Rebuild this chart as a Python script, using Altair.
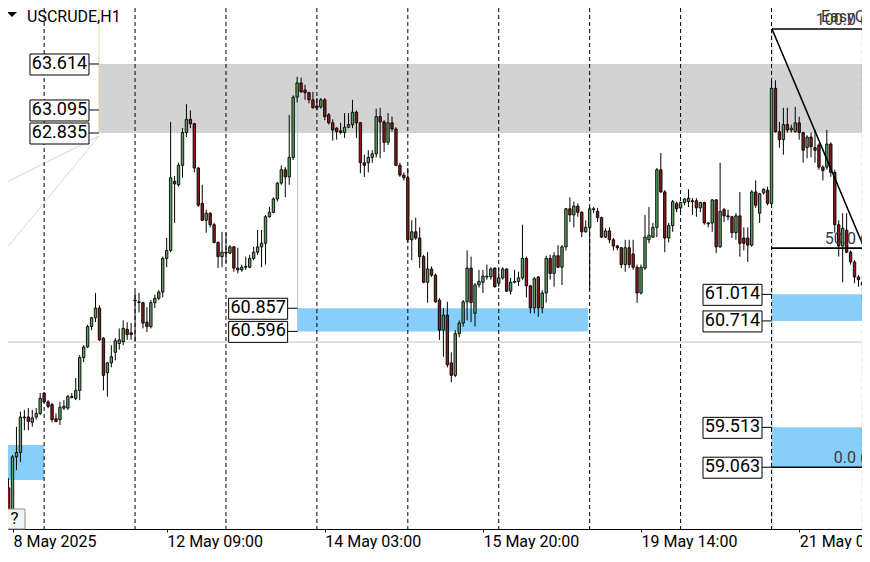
import altair as alt
import pandas as pd

# USCRUDE H1 bars, bar 0 = 8 May 2025 15:00 (one bar every hour)
opens = [58.83, 58.56, 59.18, 59.23, 59.62, 59.63, 59.57, 59.63, 59.67, 59.90,
         59.80, 59.77, 59.61, 59.60, 59.73, 59.73, 59.86, 59.84, 59.93, 60.30,
         60.42, 60.65, 60.75, 60.86, 60.52, 60.13, 60.24, 60.36, 60.46, 60.48,
         60.62, 60.58, 60.94, 60.93, 60.92, 60.70, 60.65, 60.92, 60.97, 61.04,
         61.42, 61.51, 62.29, 62.25, 62.47, 62.84, 62.99, 62.94, 62.44, 62.04,
         61.85, 61.93, 61.80, 61.60, 61.44, 61.49, 61.48, 61.55, 61.31, 61.29,
         61.32, 61.32, 61.42, 61.49, 61.55, 61.59, 61.89, 61.94, 62.09, 62.27,
         62.42, 62.34, 62.56, 63.24, 63.40, 63.32, 63.29, 63.21, 63.14, 63.13,
         63.21, 63.04, 62.95, 62.89, 62.86, 62.84, 62.90, 62.93, 63.07, 62.95,
         62.50, 62.50, 62.56, 62.60, 63.02, 62.96, 62.73, 62.95, 62.88, 62.47,
         62.36, 62.33, 61.63, 61.72, 61.65, 61.44, 61.15, 61.30, 61.23, 60.95,
         60.61, 60.78, 60.24, 60.10, 60.57, 60.69, 60.93, 61.31, 60.80, 61.12,
         61.15, 61.21, 61.21, 61.31, 61.14, 61.20, 61.30, 61.05, 61.15, 61.16,
         61.20, 61.42, 61.11, 60.86, 61.21, 60.86, 61.03, 61.42, 61.25, 61.45,
         61.32, 61.55, 61.98, 61.91, 62.01, 61.94, 61.72, 61.77, 61.98, 61.95,
         61.88, 61.66, 61.73, 61.63, 61.56, 61.54, 61.35, 61.54, 61.47, 61.32,
         61.03, 61.31, 61.63, 61.66, 61.77, 62.42, 62.17, 61.65, 61.79, 62.04,
         61.99, 62.05, 62.06, 62.07, 62.07, 61.99, 62.05, 61.82, 61.82, 62.08,
         61.55, 61.97, 61.90, 61.89, 61.71, 61.90, 61.65, 61.65, 61.57, 62.17,
         61.93, 62.16, 62.19, 62.04, 63.34, 62.85, 62.76, 62.93, 62.87, 62.85,
         62.95, 62.84, 62.67, 62.79, 62.67, 62.70, 62.45, 62.45, 62.71, 62.39,
         61.80, 61.56, 61.74, 61.49, 61.38, 61.21, 61.15]
highs = [58.94, 59.20, 59.52, 59.69, 59.71, 59.73, 59.71, 59.73, 59.90, 59.91,
         59.82, 59.79, 59.67, 59.80, 59.82, 59.88, 59.90, 60.07, 60.33, 60.44,
         60.67, 60.76, 61.03, 60.89, 60.53, 60.25, 60.44, 60.52, 60.63, 60.72,
         60.70, 60.69, 61.04, 61.03, 60.93, 60.87, 60.95, 61.01, 61.06, 61.44,
         61.65, 62.96, 62.35, 62.50, 62.89, 63.16, 63.09, 62.95, 62.45, 62.25,
         61.97, 61.94, 61.82, 61.61, 61.72, 61.71, 61.57, 61.56, 61.54, 61.35,
         61.44, 61.46, 61.55, 61.74, 61.74, 61.91, 62.00, 62.11, 62.28, 62.47,
         62.45, 63.04, 63.26, 63.47, 63.46, 63.38, 63.30, 63.30, 63.23, 63.23,
         63.23, 63.06, 62.99, 62.90, 62.95, 63.06, 63.06, 63.21, 63.09, 62.96,
         62.59, 62.64, 62.64, 63.11, 63.12, 62.98, 63.06, 63.02, 62.90, 62.50,
         62.39, 62.44, 61.85, 61.88, 61.77, 61.46, 61.49, 61.33, 61.25, 60.97,
         60.86, 60.93, 60.36, 60.61, 60.72, 60.95, 61.51, 61.44, 61.14, 61.29,
         61.29, 61.35, 61.32, 61.32, 61.31, 61.32, 61.31, 61.20, 61.29, 61.27,
         61.80, 61.44, 61.12, 61.21, 61.22, 61.06, 61.45, 61.46, 61.49, 61.57,
         61.57, 61.99, 62.11, 62.06, 62.04, 61.95, 61.85, 62.00, 62.00, 61.99,
         61.89, 61.76, 61.77, 61.65, 61.57, 61.55, 61.63, 61.63, 61.63, 61.35,
         61.35, 61.91, 62.00, 61.82, 62.44, 62.61, 62.19, 61.82, 62.08, 62.06,
         62.06, 62.10, 62.20, 62.10, 62.10, 62.06, 62.06, 61.83, 62.09, 62.09,
         62.50, 61.99, 61.97, 61.90, 61.93, 62.17, 61.77, 61.77, 62.19, 62.30,
         62.16, 62.21, 62.23, 63.43, 63.43, 62.96, 63.12, 63.12, 62.93, 63.13,
         63.02, 62.85, 62.81, 62.84, 62.87, 62.72, 62.47, 62.87, 62.73, 62.42,
         61.85, 61.93, 61.93, 61.51, 61.40, 61.23, 61.21]
lows = [58.47, 58.55, 59.03, 59.12, 59.48, 59.48, 59.52, 59.60, 59.65, 59.79,
        59.73, 59.57, 59.57, 59.54, 59.71, 59.71, 59.84, 59.82, 59.82, 60.25,
        60.41, 60.61, 60.70, 60.49, 59.93, 59.86, 60.19, 60.27, 60.39, 60.44,
        60.50, 60.50, 60.48, 60.81, 60.63, 60.59, 60.63, 60.86, 60.95, 60.98,
        61.32, 61.49, 61.82, 62.23, 62.33, 62.79, 62.89, 62.39, 62.00, 61.84,
        61.71, 61.77, 61.59, 61.31, 61.32, 61.37, 61.47, 61.27, 61.25, 61.27,
        61.29, 61.31, 61.40, 61.46, 61.32, 61.35, 61.88, 61.93, 62.06, 62.25,
        62.11, 62.25, 62.53, 63.18, 63.29, 63.21, 63.17, 63.11, 63.09, 63.11,
        62.98, 62.93, 62.75, 62.76, 62.82, 62.78, 62.89, 62.89, 62.78, 62.38,
        62.34, 62.39, 62.50, 62.56, 62.55, 62.62, 62.70, 62.85, 62.46, 62.34,
        62.30, 61.60, 61.40, 61.63, 61.31, 61.14, 60.92, 61.21, 60.92, 60.50,
        60.31, 60.19, 60.02, 60.08, 60.53, 60.65, 60.72, 60.70, 60.65, 61.09,
        61.03, 61.18, 61.18, 61.09, 61.10, 61.18, 61.04, 61.01, 61.14, 61.11,
        61.18, 60.98, 60.80, 60.80, 60.76, 60.80, 60.92, 61.18, 61.10, 61.31,
        61.12, 61.51, 61.83, 61.77, 61.89, 61.66, 61.71, 61.06, 61.93, 61.83,
        61.65, 61.65, 61.59, 61.51, 61.51, 61.31, 61.27, 61.31, 61.29, 60.92,
        61.01, 61.29, 61.59, 61.65, 61.66, 62.16, 61.49, 61.60, 61.72, 61.94,
        61.94, 62.02, 62.00, 61.91, 61.89, 61.94, 61.80, 61.77, 61.72, 61.48,
        61.54, 61.83, 61.85, 61.65, 61.63, 61.44, 61.51, 61.38, 61.55, 61.99,
        61.82, 62.14, 62.02, 62.02, 62.84, 62.67, 62.59, 62.84, 62.84, 62.84,
        62.76, 62.50, 62.55, 62.56, 62.50, 62.42, 62.30, 62.42, 62.34, 61.71,
        61.44, 61.15, 61.48, 61.35, 61.14, 61.10, 60.95]
closes = [58.55, 59.18, 59.23, 59.63, 59.63, 59.58, 59.62, 59.67, 59.84, 59.80,
          59.75, 59.60, 59.58, 59.74, 59.75, 59.86, 59.85, 59.93, 60.30, 60.42,
          60.65, 60.75, 60.86, 60.50, 60.10, 60.24, 60.31, 60.49, 60.50, 60.63,
          60.56, 60.56, 60.95, 60.92, 60.69, 60.65, 60.92, 60.97, 61.04, 61.42,
          61.51, 62.33, 62.26, 62.47, 62.84, 62.99, 62.94, 62.44, 62.02, 61.85,
          61.93, 61.80, 61.60, 61.44, 61.49, 61.48, 61.55, 61.31, 61.29, 61.32,
          61.33, 61.42, 61.49, 61.55, 61.59, 61.89, 61.94, 62.09, 62.27, 62.42,
          62.34, 62.56, 63.24, 63.40, 63.30, 63.29, 63.21, 63.12, 63.12, 63.21,
          63.02, 62.95, 62.87, 62.85, 62.84, 62.90, 62.93, 63.07, 62.95, 62.50,
          62.47, 62.56, 62.60, 63.02, 62.96, 62.73, 62.95, 62.88, 62.47, 62.36,
          62.33, 61.63, 61.72, 61.65, 61.44, 61.15, 61.30, 61.23, 60.93, 60.61,
          60.78, 60.22, 60.10, 60.57, 60.69, 60.93, 61.31, 60.92, 61.12, 61.16,
          61.22, 61.22, 61.30, 61.10, 61.20, 61.30, 61.05, 61.15, 61.16, 61.20,
          61.42, 61.11, 60.86, 61.19, 60.86, 61.03, 61.42, 61.25, 61.45, 61.32,
          61.55, 61.98, 61.91, 62.01, 61.94, 61.72, 61.77, 61.98, 61.97, 61.88,
          61.66, 61.73, 61.63, 61.56, 61.54, 61.35, 61.54, 61.35, 61.32, 61.03,
          61.32, 61.66, 61.68, 61.77, 62.42, 62.17, 61.65, 61.79, 62.06, 61.98,
          62.05, 62.09, 62.10, 62.06, 61.99, 62.05, 61.82, 61.81, 62.08, 61.55,
          61.95, 61.90, 61.89, 61.71, 61.90, 61.59, 61.59, 61.57, 62.17, 62.02,
          62.15, 62.20, 62.04, 63.34, 62.85, 62.76, 62.93, 62.87, 62.89, 62.95,
          62.84, 62.64, 62.79, 62.68, 62.64, 62.45, 62.41, 62.71, 62.39, 61.80,
          61.56, 61.76, 61.49, 61.38, 61.21, 61.18, 61.12]

# time axis labels (bar index -> text)
tick_bars = [0, 40, 80, 120, 160, 200]
tick_texts = ["8 May 2025", "12 May 09:00", "14 May 03:00", "15 May 20:00",
              "19 May 14:00", "21 May 08:00"]

# first bar of each trading day (period separators)
day_starts = [9, 32, 55, 78, 101, 124, 147, 170, 193, 216]

# supply zone (grey) and demand zones (blue): start bar, end bar, upper, lower price
supply_start, supply_end, supply_top, supply_bottom = [22.875], [230], [63.614], [62.835]
demand_start = [-0.4, 73.125, 193.125, 193.125]
demand_end = [9, 146.625, 230, 230]
demand_top = [59.314, 60.857, 61.014, 59.513]
demand_bottom = [58.919, 60.596, 60.714, 59.063]

# price tags attached to the zones
tag_bar = [22.875, 22.875, 22.875, 73.125, 73.125, 193.125, 193.125, 193.125, 193.125]
tag_price = [63.614, 63.095, 62.835, 60.857, 60.596, 61.014, 60.714, 59.513, 59.063]

# fibonacci retracement (anchor bars and prices)
fib_bars = [193.125, 239.8]
fib_prices = [64.009, 59.063]
fib_levels = [100.0, 50.0, 0.0]

hline_price = 60.476

UP, DOWN = "#5f9f5f", "#8c1a1a"
FONT = "Roboto"

# plot area: 854 x 521 px, 4 px per bar, 88.6 px per dollar
x_lo = 1.125
x_hi = x_lo + 854 / 4
y_hi = 64.246
y_lo = y_hi - 521 / 88.6
xs = alt.Scale(domain=[x_lo, x_hi], nice=False, zero=False)
ys = alt.Scale(domain=[y_lo, y_hi], nice=False, zero=False)

label_expr = "".join(f"datum.value < {b + 20} ? '{t}' : " for b, t in zip(tick_bars, tick_texts)) + "''"
x_axis = alt.Axis(values=[max(b, x_lo) for b in tick_bars], labelExpr=label_expr, title=None,
                  grid=False, labelAlign="left", labelBaseline="top", labelFlush=False,
                  labelOverlap=False, labelFont=FONT, labelFontSize=16, labelColor="black",
                  labelPadding=1, tickSize=3, tickColor="black", domainColor="black")


def X(f):
    return alt.X(f"{f}:Q", scale=xs, axis=x_axis)


def Y(f):
    return alt.Y(f"{f}:Q", scale=ys, axis=None)


bars = pd.DataFrame({"bar": list(range(len(opens))), "open": opens, "high": highs,
                     "low": lows, "close": closes})
bars["dir"] = ["up" if c >= o else "down" for o, c in zip(opens, closes)]

supply = pd.DataFrame({"start": supply_start, "end": supply_end,
                       "top": supply_top, "bottom": supply_bottom})
demand = pd.DataFrame({"start": demand_start, "end": demand_end,
                       "top": demand_top, "bottom": demand_bottom})
tags = pd.DataFrame({"bar": tag_bar, "price": tag_price,
                     "label": [f"{p:.3f}" for p in tag_price]})
seps = pd.DataFrame({"bar": day_starts})

fib_hi, fib_lo = fib_prices[0], fib_prices[1]
fib = pd.DataFrame({"level": fib_levels,
                    "price": [fib_lo + lv / 100 * (fib_hi - fib_lo) for lv in fib_levels]})
fib["start"] = fib_bars[0]
fib["end"] = 230
fib["text_bar"] = 230.6
fib["label"] = [f"{lv:.1f} ({p:.3f})" for lv, p in zip(fib["level"], fib["price"])]
fib_diag = pd.DataFrame({"b1": [fib_bars[0]], "b2": [fib_bars[1]],
                         "p1": [fib_hi], "p2": [fib_lo]})

supply_layer = alt.Chart(supply).mark_rect(clip=True, color="#d3d3d3").encode(
    x=X("start"), x2=alt.X2("end"), y=Y("top"), y2=alt.Y2("bottom"))
demand_layer = alt.Chart(demand).mark_rect(clip=True, color="#87cefa").encode(
    x=X("start"), x2=alt.X2("end"), y=Y("top"), y2=alt.Y2("bottom"))

hline = alt.Chart(pd.DataFrame({"price": [hline_price]})).mark_rule(
    color="#c4c4c4", strokeWidth=1).encode(y=Y("price"))

edges = pd.DataFrame({"bar": [73.125, 193.125], "top": [63.377, 64.009], "bottom": [60.596, y_lo]})
edge_layer = alt.Chart(edges).mark_rule(color="#a3c8de", strokeWidth=1, clip=True).encode(
    x=X("bar"), y=Y("top"), y2=alt.Y2("bottom"))

anchor = pd.DataFrame({"bar": [22.875], "top": [y_hi], "bottom": [62.835]})
anchor_layer = alt.Chart(anchor).mark_rule(color="#ecd97a", strokeWidth=1).encode(
    x=X("bar"), y=Y("top"), y2=alt.Y2("bottom"))

fan = pd.DataFrame({"b1": [22.875, 22.875], "b2": [-0.875, -0.875],
                    "p1": [62.80, 62.80], "p2": [62.271, 61.514]})
fan_layer = alt.Chart(fan).mark_rule(color="#d6d6d6", strokeWidth=1, clip=True).encode(
    x=X("b1"), x2=alt.X2("b2"), y=Y("p1"), y2=alt.Y2("p2"))

sep_layer = alt.Chart(seps).mark_rule(color="black", strokeWidth=1, strokeDash=[4, 3],
                                      clip=True).encode(x=X("bar"))

wicks = alt.Chart(bars).mark_rule(color="black", strokeWidth=1, clip=True).encode(
    x=X("bar"), y=Y("low"), y2=alt.Y2("high"))
bodies = alt.Chart(bars).mark_bar(size=2.4, stroke="black", strokeWidth=0.9, clip=True).encode(
    x=X("bar"), y=Y("open"), y2=alt.Y2("close"),
    color=alt.Color("dir:N", scale=alt.Scale(domain=["up", "down"], range=[UP, DOWN]), legend=None))

fib_lines = alt.Chart(fib).mark_rule(color="black", strokeWidth=1.6, clip=True).encode(
    x=X("start"), x2=alt.X2("end"), y=Y("price"))
fib_diag_layer = alt.Chart(fib_diag).mark_rule(color="black", strokeWidth=1.6, clip=True).encode(
    x=X("b1"), x2=alt.X2("b2"), y=Y("p1"), y2=alt.Y2("p2"))
fib_text = alt.Chart(fib).mark_text(align="right", baseline="bottom", dy=-1, font=FONT,
                                    fontSize=16, color="#3a3a3a").encode(
    x=X("text_bar"), y=Y("price"), text="label:N")

tag_lines = alt.Chart(tags).mark_rule(color="black", strokeWidth=1, xOffset=-10, x2Offset=0).encode(
    x=X("bar"), x2=alt.X2("bar"), y=Y("price"))
tag_boxes = alt.Chart(tags).mark_rect(fill="white", stroke="black", strokeWidth=1,
                                      xOffset=-69, x2Offset=-10, yOffset=-10, y2Offset=11).encode(
    x=X("bar"), x2=alt.X2("bar"), y=Y("price"), y2=alt.Y2("price"))
tag_text = alt.Chart(tags).mark_text(align="center", baseline="middle", xOffset=-39.5,
                                     font=FONT, fontSize=18, color="black").encode(
    x=X("bar"), y=Y("price"), text="label:N")

one = pd.DataFrame({"k": [0]})
title_text = alt.Chart(one).mark_text(align="left", baseline="alphabetic", font=FONT,
                                      fontSize=16, color="black", text="USCRUDE,H1").encode(
    x=alt.value(19), y=alt.value(13.5))
title_arrow = alt.Chart(one).mark_point(shape="M-1,-0.5L1,-0.5L0,0.5Z", size=100, filled=True,
                                        color="black", opacity=1).encode(
    x=alt.value(4), y=alt.value(6.5))
ea_text = alt.Chart(one).mark_text(align="left", baseline="alphabetic", font=FONT, fontSize=16,
                                   color="#333333", text="EasyOrder").encode(
    x=alt.value(813), y=alt.value(14))
help_box = alt.Chart(one).mark_rect(fill="#f3f3f3", stroke="#8c8c8c", strokeWidth=1).encode(
    x=alt.value(-2), x2=alt.value(17), y=alt.value(501), y2=alt.value(521))
help_text = alt.Chart(one).mark_text(align="center", baseline="middle", font=FONT, fontSize=17,
                                     color="black", text="?").encode(
    x=alt.value(6.5), y=alt.value(511))

chart = alt.layer(
    supply_layer, demand_layer, hline, edge_layer, anchor_layer, fan_layer, sep_layer,
    wicks, bodies, fib_lines, fib_diag_layer, fib_text,
    tag_lines, tag_boxes, tag_text,
    title_arrow, title_text, ea_text, help_box, help_text,
).properties(
    width=854, height=521,
    padding={"left": 0, "top": 0, "right": 0, "bottom": 20},
    autosize=alt.AutoSizeParams(type="none"),
    background="white",
).configure_view(stroke=None)

chart.save("out.html", embed_options={"renderer": "svg", "actions": False})
